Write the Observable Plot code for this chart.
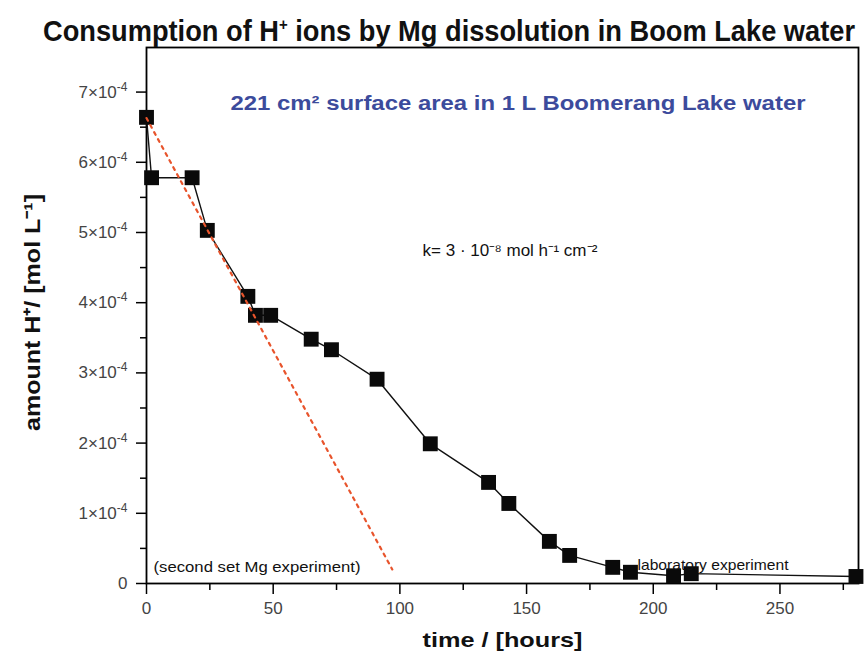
<!DOCTYPE html>
<html><head><meta charset="utf-8">
<script src="https://cdn.jsdelivr.net/npm/d3@7"></script>
<script src="https://cdn.jsdelivr.net/npm/@observablehq/plot@0.6"></script>
<style>
body{margin:0;background:#fff;}
#wrap{width:865px;height:660px;position:relative;overflow:hidden;background:#fff;}
#title{height:44px;box-sizing:border-box;padding-top:16px;font:bold 30px "Liberation Sans Narrow","Liberation Sans",Arial,sans-serif;line-height:30px;white-space:nowrap;color:#111;}
#title span{display:inline-block;transform-origin:0 0;}
#title sup{font-size:55%;vertical-align:super;line-height:0;}
#chart svg{display:block;}
</style></head><body>
<div id="wrap">
<div id="title"><span id="tt">Consumption of H<sup>+</sup> ions by Mg dissolution in Boom Lake water</span></div>
<div id="chart"></div>
</div>
<script>
// ---- data ----
const timeHours = [0, 2, 18, 24, 40, 43, 49, 65, 73, 91, 112, 135, 143, 159, 167, 184, 191, 208, 215, 280];
const hIons = [6.64e-4, 5.78e-4, 5.78e-4, 5.03e-4, 4.09e-4, 3.82e-4, 3.82e-4, 3.48e-4, 3.33e-4, 2.91e-4,
               1.99e-4, 1.44e-4, 1.14e-4, 0.60e-4, 0.40e-4, 0.23e-4, 0.16e-4, 0.11e-4, 0.14e-4, 0.10e-4];
const fitTime = [0, 97];
const fitH = [6.63e-4, 0.20e-4];

const xTicks = [0, 50, 100, 150, 200, 250];
const xMinorTicks = [25, 75, 125, 175, 225, 275];
const yTicks = [0, 1e-4, 2e-4, 3e-4, 4e-4, 5e-4, 6e-4, 7e-4];
const yTickLabels = ["0", "1×10⁻⁴", "2×10⁻⁴", "3×10⁻⁴", "4×10⁻⁴", "5×10⁻⁴", "6×10⁻⁴", "7×10⁻⁴"];
const yMinorTicks = [0.5e-4, 1.5e-4, 2.5e-4, 3.5e-4, 4.5e-4, 5.5e-4, 6.5e-4];

const xLabel = "time / [hours]";
const yLabel = "amount H⁺/ [mol L⁻¹]";
const noteSurface = "221 cm² surface area in 1 L Boomerang Lake water";
const noteRate = "k= 3 · 10⁻⁸ mol h⁻¹ cm⁻²";
const noteSet = "(second set Mg experiment)";
const noteLab = "laboratory experiment";

// ---- build ----
const data = timeHours.map((t, i) => ({t, h: hIons[i]}));
const fit = fitTime.map((t, i) => ({t, h: fitH[i]}));

const font = '"Liberation Sans", Arial, sans-serif';
const mL = 146, mR = 7, mT = 3, mB = 77;

const plot = Plot.plot({
  width: 865, height: 616,
  marginLeft: mL, marginRight: mR, marginTop: mT, marginBottom: mB,
  style: {fontFamily: font, background: "transparent", color: "#000", overflow: "visible"},
  x: {domain: [0, 281], label: null},
  y: {domain: [0, 7.635e-4], label: null},
  marks: [
    Plot.axisX({ticks: xTicks, tickSize: 11, tickPadding: 7, fontSize: 17, stroke: "#000", strokeWidth: 1.5, fill: "#444", label: null}),
    Plot.axisX({ticks: xMinorTicks, tickSize: 7, tickFormat: () => "", stroke: "#000", strokeWidth: 1.5, label: null}),
    Plot.axisY({ticks: yTicks, tickSize: 10, tickPadding: 9, fontSize: 17, stroke: "#000", strokeWidth: 1.5, fill: "#444",
      tickFormat: d => yTickLabels[yTicks.indexOf(d)], label: null}),
    Plot.axisY({ticks: yMinorTicks, tickSize: 6, tickFormat: () => "", stroke: "#000", strokeWidth: 1.5, label: null}),
    Plot.frame({stroke: "#000", strokeWidth: 1.8}),
    Plot.line(data, {x: "t", y: "h", stroke: "#111", strokeWidth: 1.4}),
    Plot.dot(data, {x: "t", y: "h", symbol: "square", r: 8.4, fill: "#0a0a0a", stroke: "none"}),
    Plot.line(fit, {x: "t", y: "h", stroke: "#e8542c", strokeWidth: 2.2, strokeDasharray: "3,5"}),
    Plot.text([noteSurface], {frameAnchor: "top-left", dx: 371.5, dy: 48, textAnchor: "middle", fill: "#3c4b9c", fontSize: 20, fontWeight: "bold"}),
    Plot.text([noteRate], {frameAnchor: "top-left", dx: 363.5, dy: 197, textAnchor: "middle", fill: "#111", fontSize: 16}),
    Plot.text([noteSet], {frameAnchor: "top-left", dx: 110.5, dy: 514, textAnchor: "middle", fill: "#111", fontSize: 15}),
    Plot.text([noteLab], {frameAnchor: "top-left", dx: 566.5, dy: 512, textAnchor: "middle", fill: "#111", fontSize: 15}),
    Plot.text([xLabel], {frameAnchor: "bottom", dy: 63, textAnchor: "middle", fill: "#111", fontSize: 21, fontWeight: "bold"}),
    Plot.text([yLabel], {frameAnchor: "left", dx: -114, dy: -3, rotate: -90, textAnchor: "middle", fill: "#111", fontSize: 22, fontWeight: "bold"})
  ]
});
document.getElementById("chart").appendChild(plot);

// fit text widths to the reference
const widths = new Map([[noteSurface, 575], [noteRate, 175], [noteSet, 207], [noteLab, 151], [xLabel, 160], [yLabel, 237]]);
plot.querySelectorAll("text").forEach(el => {
  const w = widths.get(el.textContent);
  if (w) { el.setAttribute("textLength", w); el.setAttribute("lengthAdjust", "spacingAndGlyphs"); }
  // larger exponents on the y tick labels
  const lab = el.textContent;
  if (yTickLabels.includes(lab) && lab.endsWith("⁻⁴")) {
    const base = lab.slice(0, -2);
    el.textContent = base;
    const sup = document.createElementNS("http://www.w3.org/2000/svg", "tspan");
    sup.setAttribute("font-size", "12");
    sup.setAttribute("dy", "-7");
    sup.textContent = "-4";
    el.appendChild(sup);
  }
});

// title: fit to width
const tt = document.getElementById("tt");
const tw = tt.getBoundingClientRect().width;
tt.style.transform = `translateX(43px) scaleX(${812 / tw})`;
</script>
</body></html>
